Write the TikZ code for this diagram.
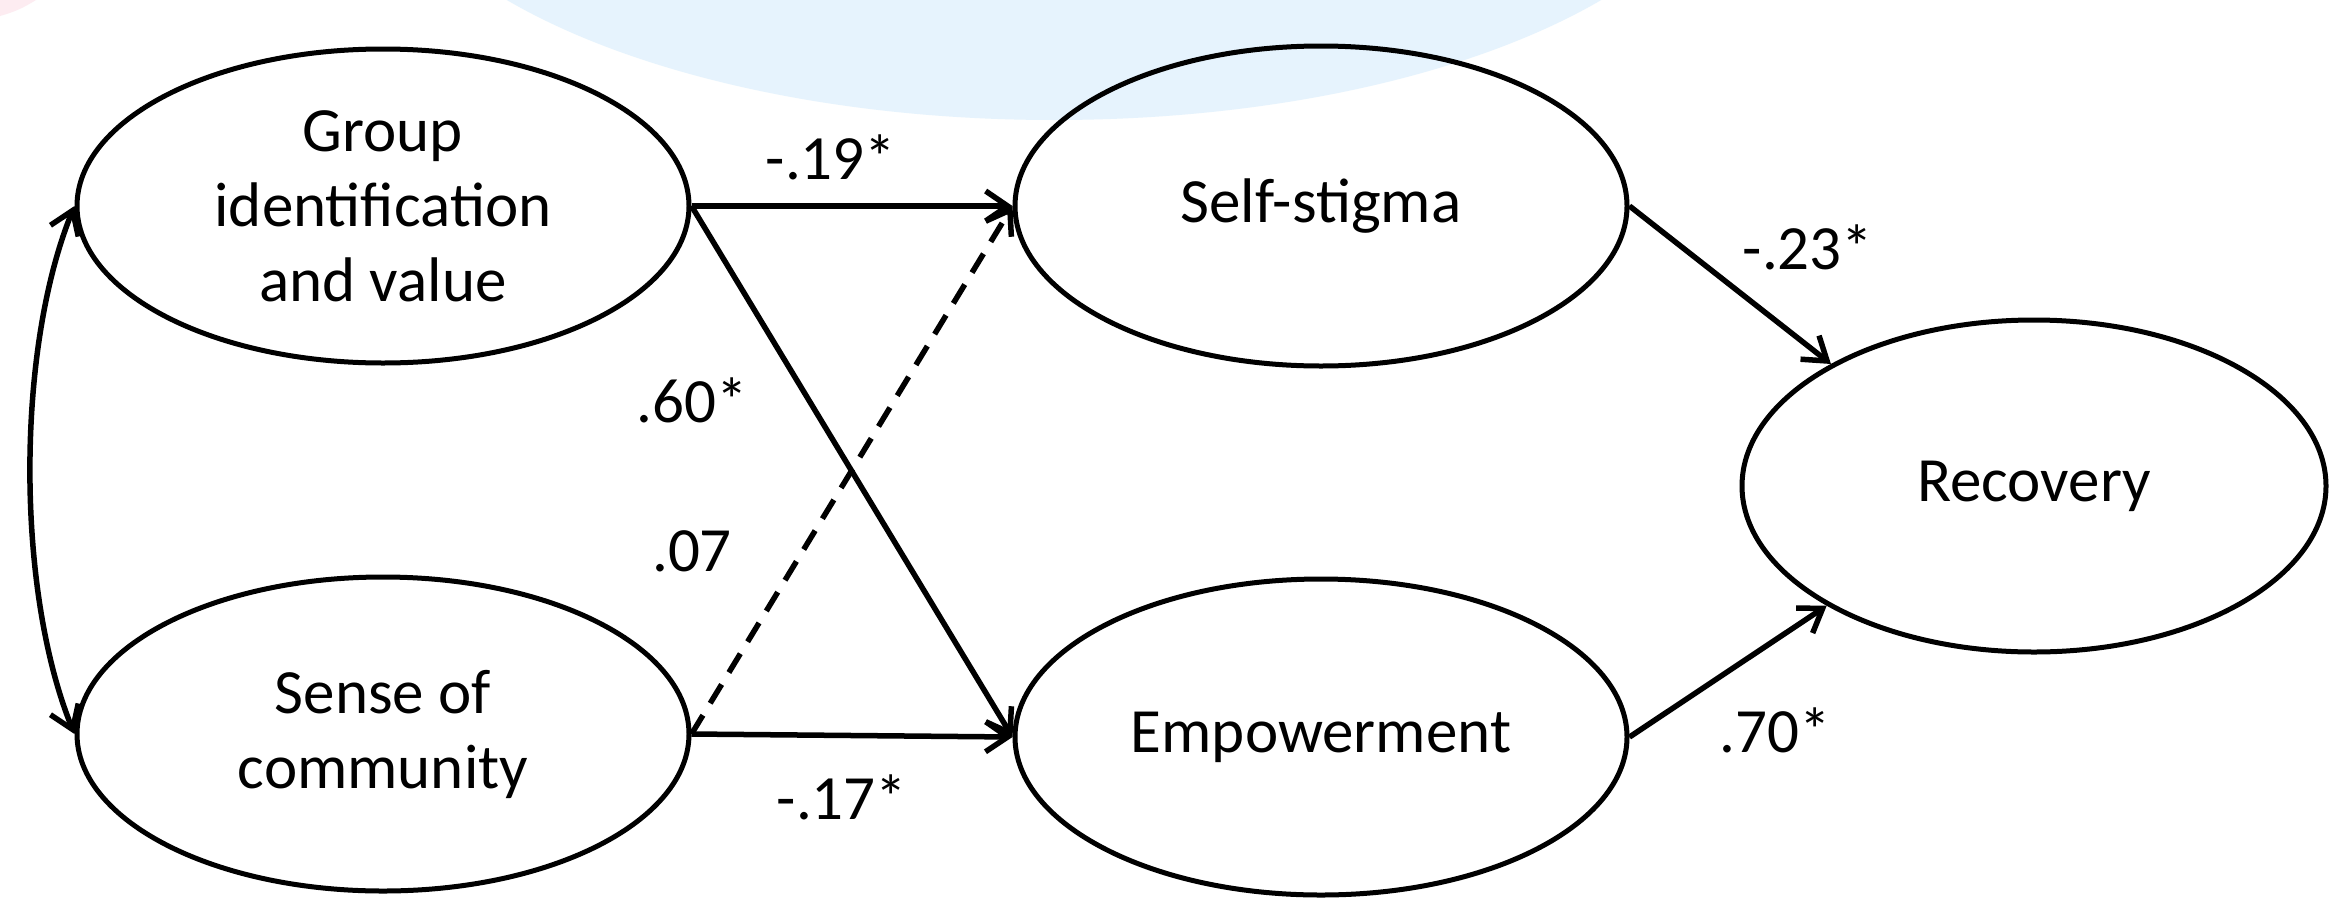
\documentclass[tikz,border=0pt]{standalone}
\usepackage{fontspec}
\setmainfont{Carlito}
\usetikzlibrary{shapes.geometric,arrows.meta}
\definecolor{bgblue}{RGB}{230,243,253}
\definecolor{bgpink}{RGB}{253,236,241}
\tikzset{
  latent/.style={draw, ellipse, line width=5pt, inner sep=0pt, align=center,
    font=\fontsize{63}{75}\selectfont},
  path/.style={line width=5.5pt, -{Straight Barb[length=22pt,width=30pt]}},
  coef/.style={font=\fontsize{63}{75}\selectfont, inner sep=0pt},
}
\begin{document}
\begin{tikzpicture}[x=1pt,y=-1pt]
\useasboundingbox (0,0) rectangle (2349,897);
\fill[white] (0,0) rectangle (2349,897);
\begin{scope}
\clip (0,0) rectangle (2349,897);
\fill[bgblue] (1054,-180) ellipse [x radius=684, y radius=300];
\fill[bgpink] (0,0) -- (36,0) to[bend left=8] (0,16) -- cycle;
\end{scope}

\node[latent, minimum width=612pt, minimum height=314pt] (gi) at (383,206) {Group\\identification\\and value};
\node[latent, minimum width=612pt, minimum height=314pt] (sc) at (383,734) {Sense of\\community};
\node[latent, minimum width=612pt, minimum height=320pt] (ss) at (1321,206) {Self-stigma};
\node[latent, minimum width=612pt, minimum height=316pt] (em) at (1321,737) {Empowerment};
\node[latent, minimum width=584pt, minimum height=332pt] (re) at (2034,486) {Recovery};

\draw[path] (gi.east) -- (ss.west);
\draw[path] (gi.east) -- (em.west);
\draw[path, dash pattern=on 22pt off 14pt] (sc.east) -- (ss.west);
\draw[path] (sc.east) -- (em.west);
\draw[path] (ss.east) -- (re.149);
\draw[path] (em.east) -- (re.210);
\draw[line width=5.5pt, {Straight Barb[length=22pt,width=30pt]}-{Straight Barb[length=22pt,width=30pt]}]
  (gi.west) .. controls (16,350) and (16,590) .. (sc.west);

\node[coef] (c1) at (831,157) {-.19*};
\node[coef] (c2) at (692,400) {.60*};
\node[coef] (c3) at (692,551) {.07};
\node[coef] (c4) at (842,797) {-.17*};
\node[coef] (c5) at (1808,247) {-.23*};
\node[coef] (c6) at (1775,730) {.70*};
\end{tikzpicture}
\end{document}
